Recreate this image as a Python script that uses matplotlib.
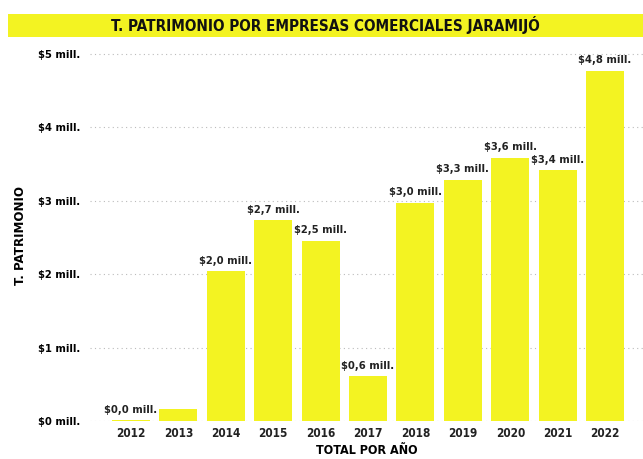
import matplotlib
matplotlib.use("Agg")
import matplotlib.pyplot as plt
from matplotlib.patches import Rectangle

years = ["2012", "2013", "2014", "2015", "2016", "2017", "2018", "2019", "2020", "2021", "2022"]
values = [0.01, 0.16, 2.04, 2.73, 2.45, 0.61, 2.97, 3.28, 3.58, 3.41, 4.77]
show_label = [True, False, True, True, True, True, True, True, True, True, True]
yticks = [0, 1, 2, 3, 4, 5]

YELLOW = "#F3F322"
fam = "DejaVu Sans"

fig = plt.figure(figsize=(6.43, 4.59), dpi=100)
ax = fig.add_axes([90/643, 38/459, 553/643, 371/459])
x = list(range(len(years)))
ax.bar(x, values, width=0.8, color=YELLOW, zorder=3)
ax.set_xlim(-0.865, 10.8)
ax.set_ylim(0, 5.05)
ax.set_yticks(yticks)
ax.set_yticklabels([f"${v} mill." for v in yticks], fontsize=8, fontweight="bold",
                   family=fam, fontstretch="condensed")
ax.set_xticks(x)
ax.set_xticklabels(years, fontsize=8.5, fontweight="bold", family=fam, fontstretch="condensed",
                   color="#222222")
ax.tick_params(axis="x", length=0, pad=4)
ax.tick_params(axis="y", length=0, pad=7)
ax.grid(axis="y", linestyle=(0, (1, 3)), color="#bbbbbb", linewidth=0.8, zorder=0)
for s in ax.spines.values():
    s.set_visible(False)
for xi, v, sh in zip(x, values, show_label):
    if sh:
        ax.annotate(f"${v:.1f} mill.".replace(".", ",", 1), (xi, v), xytext=(0, 4),
                    textcoords="offset points", ha="center", va="bottom",
                    fontsize=8, fontweight="bold", family=fam, fontstretch="condensed",
                    color="#222222")
ax.set_xlabel("TOTAL POR AÑO", fontsize=9, fontweight="bold", family=fam,
              fontstretch="condensed", labelpad=3)
ax.set_ylabel("T. PATRIMONIO", fontsize=9.5, fontweight="bold", family=fam,
              fontstretch="condensed", labelpad=8)

fig.patches.append(Rectangle((8/643, 1 - 37/459), 635/643, 23/459, transform=fig.transFigure,
                             facecolor=YELLOW, edgecolor="none"))
fig.text(0.5 + 4/643, 1 - 25.5/459, "T. PATRIMONIO POR EMPRESAS COMERCIALES JARAMIJÓ",
         ha="center", va="center", fontsize=11, fontweight="bold", family=fam,
         fontstretch="condensed", color="#111111")

fig.savefig("out.png", dpi=100)
